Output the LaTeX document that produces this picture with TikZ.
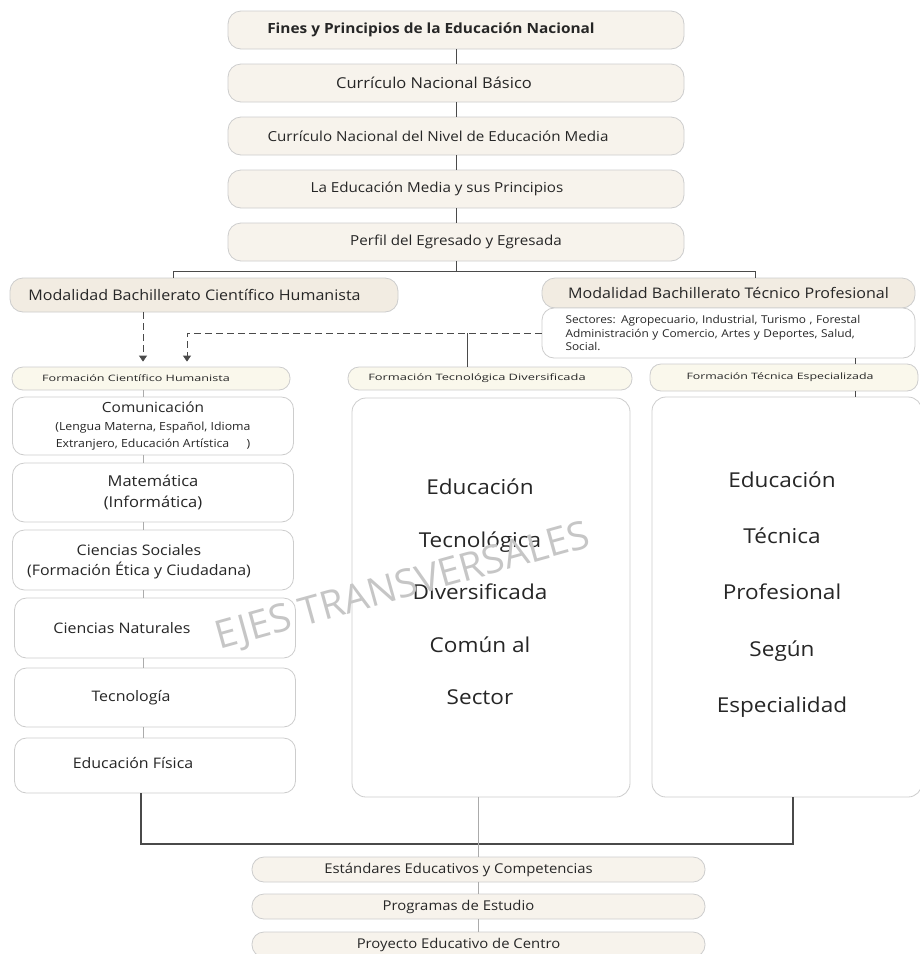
\documentclass[tikz,border=0pt]{standalone}
\usepackage{fontspec}
\setmainfont{Open Sans}[FakeStretch=1.1]
\newfontfamily\wmfont{Open Sans}
\usetikzlibrary{arrows.meta}
\definecolor{lined}{HTML}{4A4A4A}
\definecolor{linel}{HTML}{ABABAB}
\definecolor{bord}{HTML}{CDCDCD}
\definecolor{beige}{HTML}{F7F3EC}
\definecolor{beiged}{HTML}{F2ECE2}
\definecolor{cream}{HTML}{FAF8EC}
\definecolor{txt}{HTML}{262626}
\definecolor{wmark}{HTML}{C6C6C6}
\begin{document}
\begin{tikzpicture}[x=1pt,y=-1pt,
  base/.style={draw=bord, line width=0.8pt, inner sep=0pt, text=txt},
  topbox/.style={base, fill=beige, rounded corners=13pt, minimum width=456pt, minimum height=38pt, font=\fontsize{13.8}{15}\selectfont},
  modbox/.style={base, fill=beiged, rounded corners=13pt, font=\fontsize{14.6}{16}\selectfont},
  secbox/.style={base, fill=white, rounded corners=12pt, text width=326pt, inner xsep=23.5pt, inner ysep=3pt, align=left, font=\fontsize{10.8}{13.5}\selectfont},
  formbox/.style={base, fill=cream, rounded corners=11pt, minimum height=23pt, font=\fontsize{8.8}{10}\selectfont},
  colbox/.style={base, fill=white, rounded corners=12pt, minimum width=281pt, align=center},
  bigbox/.style={base, fill=white, rounded corners=14pt},
  bigtxt/.style={align=center, text=txt, font=\fontsize{20.5}{52.5}\selectfont},
  coltxt/.style={text=txt, align=center, font=\fontsize{14.5}{20}\selectfont},
  botbox/.style={base, fill=beige, rounded corners=12pt, minimum width=453pt, minimum height=25pt, font=\fontsize{13.5}{15}\selectfont},
  conn/.style={draw=lined, line width=0.9pt},
  connl/.style={draw=linel, line width=0.6pt},
  dasharrow/.style={draw=lined, line width=0.8pt, dash pattern=on 7pt off 4pt, -{Triangle[width=8pt,length=6pt]}, shorten >=5pt}
]
\useasboundingbox (0,0) rectangle (920,954);
\clip (0,0) rectangle (920,954);
\fill[white] (0,0) rectangle (920,954);

% top chain
\node[topbox, font=\fontsize{14}{15}\selectfont\bfseries] (t1) at (456,30) {\hspace*{-50pt}Fines y Principios de la Educación Nacional};
\node[topbox, font=\fontsize{15}{16}\selectfont] (t2) at (456,83) {\hspace*{-44pt}Currículo Nacional Básico};
\node[topbox] (t3) at (456,136) {\hspace*{-36pt}Currículo Nacional del Nivel de Educación Media};
\node[topbox] (t4) at (456,189) {\hspace*{-38pt}La Educación Media y sus Principios};
\node[topbox] (t5) at (456,242) {Perfil del Egresado y Egresada};
\foreach \a/\b in {t1/t2,t2/t3,t3/t4,t4/t5} \draw[conn] (\a.south) -- (\b.north);

% modalities
\node[modbox, minimum width=388pt, minimum height=34pt] (mCH) at (204,295) {\hspace*{-19pt}Modalidad Bachillerato Científico Humanista};
\node[modbox, minimum width=373pt, minimum height=30pt] (mTP) at (728.5,293) {Modalidad Bachillerato Técnico Profesional};
\node[secbox, minimum height=50pt] (sect) at (728.5,333) {Sectores: Agropecuario, Industrial, Turismo , Forestal\\Administración y Comercio, Artes y Deportes, Salud,\\Social.};

\coordinate (hl) at (173,271);
\coordinate (hr) at (755,271);
\draw[conn] (t5.south) -- (t5.south |- hl);
\draw[conn] (mCH.north -| hl) -- (hl) -- (hr) -- (mTP.north -| hr);

% formación labels
\node[formbox, minimum width=278pt] (fCH) at (151,378.5) {\hspace*{-30pt}\scalebox{1.3}[1]{Formación Científico Humanista}};
\node[formbox, minimum width=284pt] (fTD) at (490,378.5) {\hspace*{-26pt}\scalebox{1.33}[1]{Formación Tecnológica Diversificada}};
\node[formbox, minimum width=268pt, minimum height=27pt] (fTE) at (784,377.5) {\hspace*{-8pt}\scalebox{1.28}[1]{Formación Técnica Especializada}};

\coordinate (a1) at (143,0);
\coordinate (a2) at (187,333);
\coordinate (a3) at (467,333);
\draw[dasharrow] (mCH.south -| a1) -- (fCH.north -| a1);
\draw[dasharrow] (sect.west) -- (a2) -- (fCH.north -| a2);
\draw[conn] (a3) -- (fTD.north -| a3);
\coordinate (a4) at (855,0);
\draw[conn] (sect.south -| a4) -- (fTE.north -| a4);

% left column
\node[colbox, minimum height=58pt, font=\fontsize{11.2}{17.5}\selectfont] (com) at (153,426) {{\fontsize{14}{17.5}\selectfont Comunicación}\\(Lengua Materna, Español, Idioma\\Extranjero, Educación Artística \hspace{14pt})};
\node[colbox, minimum height=59pt, font=\fontsize{15}{20.5}\selectfont] (mat) at (153,492.5) {Matemática\\(Informática)};
\node[colbox, minimum height=60pt] (soc) at (153,560) {};
\node[coltxt] (soct) at (139,562) {Ciencias Sociales\\(Formación Ética y Ciudadana)};
\node[colbox, minimum height=60pt] (nat) at (155,628) {};
\node[coltxt] (natt) at (122,628) {Ciencias Naturales};
\node[colbox, minimum height=59pt] (tec) at (155,697.5) {};
\node[coltxt] (tect) at (131,698) {Tecnología};
\node[colbox, minimum height=55pt] (fis) at (155,765.5) {};
\node[coltxt] (fist) at (133,763) {Educación Física};

\coordinate (a5) at (143,0);
\foreach \a/\b in {fCH/com,com/mat,mat/soc,soc/nat,nat/tec,tec/fis} \draw[connl] (\a.south -| a5) -- (\b.north -| a5);

% big boxes
\node[bigbox, minimum width=278pt, minimum height=399pt] (mbig) at (491,597.5) {};
\node[bigtxt] (mtxt) at (480,592) {Educación\\Tecnológica\\Diversificada\\Común al\\Sector};
\node[bigbox, minimum width=270pt, minimum height=400pt] (rbig) at (787,597) {};
\node[bigtxt, font=\fontsize{20.5}{56.2}\selectfont] (rtxt) at (782,594.5) {Educación\\Técnica\\Profesional\\Según\\Especialidad};
\draw[conn] (fTE.south -| a4) -- (rbig.north -| a4);

% bottom
\node[botbox] (est) at (478.5,869.5) {\hspace*{-40pt}Estándares Educativos y Competencias};
\node[botbox] (prog) at (478.5,906.5) {\hspace*{-40pt}Programas de Estudio};
\node[botbox] (proy) at (478.5,944.5) {\hspace*{-40pt}Proyecto Educativo de Centro};

\coordinate (bl) at (141,844);
\coordinate (br) at (793,844);
\coordinate (bm) at (478,844);
\draw[conn, line width=1.4pt] (fis.south -| bl) -- (bl) -- (br) -- (rbig.south -| br);
\draw[connl] (mbig.south -| bm) -- (est.north -| bm);
\draw[connl] (est.south -| bm) -- (prog.north -| bm);
\draw[connl] (prog.south -| bm) -- (proy.north -| bm);

% watermark
\node[text=wmark, rotate=15.5, font=\wmfont\fontsize{39}{39}\selectfont] (wm) at (403,588) {EJES TRANSVERSALES};
\end{tikzpicture}
\end{document}
